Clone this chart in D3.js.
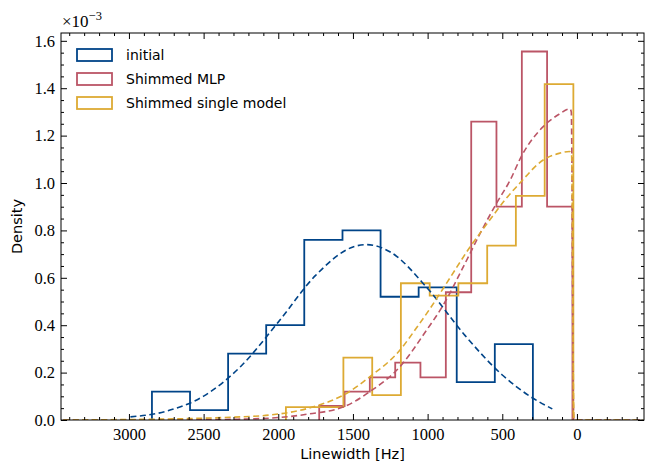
<!DOCTYPE html>
<html>
<head>
<meta charset="utf-8">
<script src="https://cdn.jsdelivr.net/npm/d3@7"></script>
<style>
  body { margin: 0; background: #fff; }
  svg { display: block; }
</style>
</head>
<body>
<svg id="chart" width="646" height="466"></svg>
<script>
// histogram bin edges (Hz) and densities (x1e-3)
const initialEdges = [2846, 2591, 2336, 2081, 1826, 1570, 1315, 1060, 805, 550, 295];
const initialDensity = [0.12, 0.042, 0.28, 0.40, 0.76, 0.80, 0.52, 0.56, 0.16, 0.32];

const mlpEdges = [1726, 1556, 1387, 1217, 1048, 878, 708, 539, 369, 200, 30];
const mlpDensity = [0.059, 0.12, 0.18, 0.242, 0.18, 0.539, 1.259, 0.90, 1.555, 0.90];

const singleEdges = [1949, 1756, 1564, 1371, 1179, 986, 794, 601, 409, 216, 24];
const singleDensity = [0.054, 0.054, 0.263, 0.105, 0.577, 0.525, 0.577, 0.736, 0.946, 1.417];

// fitted curves (dashed)
const initialFitHz = [2990, 2750, 2500, 2250, 2000, 1750, 1500, 1410, 1250, 1000, 750, 500, 300, 165];
const initialFit = [0.013, 0.037, 0.101, 0.227, 0.413, 0.61, 0.73, 0.74, 0.709, 0.555, 0.357, 0.19, 0.094, 0.047];

const mlpFitHz = [3440, 2900, 2600, 2300, 2050, 1800, 1560, 1386, 1185, 1006, 900, 750, 638, 538, 449, 370, 226, 120, 47, 38, 22, -440];
const mlpFit = [0, 0.0005, 0.001, 0.003, 0.008, 0.025, 0.056, 0.12, 0.225, 0.38, 0.48, 0.66, 0.80, 0.915, 1.01, 1.115, 1.238, 1.29, 1.313, 1.30, 0, 0];

const singleFitHz = [3440, 3000, 2600, 2300, 2056, 1900, 1726, 1550, 1386, 1185, 1073, 984, 850, 716, 600, 480, 382, 226, 120, 50, 36, 20, -440];
const singleFit = [0, 0.002, 0.006, 0.012, 0.021, 0.035, 0.063, 0.11, 0.183, 0.295, 0.39, 0.47, 0.60, 0.73, 0.83, 0.93, 1.00, 1.097, 1.125, 1.133, 1.12, 0, 0];

const xTicks = [3000, 2500, 2000, 1500, 1000, 500, 0];
const yTicks = [0.0, 0.2, 0.4, 0.6, 0.8, 1.0, 1.2, 1.4, 1.6];
const legendLabels = ['initial', 'Shimmed MLP', 'Shimmed single model'];

const colors = ['#004488', '#BB5566', '#DDAA33'];

const svg = d3.select('#chart');
const plotL = 61, plotR = 644, plotT = 33, plotB = 420;

const x = d3.scaleLinear().domain([3455, -449]).range([plotL, plotR]);
const y = d3.scaleLinear().domain([0, 1.633]).range([plotB, plotT]);

const serif = '"Liberation Serif", "DejaVu Serif", serif';
const sans = '"DejaVu Sans", sans-serif';

// plot content clipped to axes
svg.append('clipPath').attr('id', 'clip')
  .append('rect').attr('x', plotL).attr('y', plotT).attr('width', plotR - plotL).attr('height', plotB - plotT);
const g = svg.append('g').attr('clip-path', 'url(#clip)');

function stepPoints(edges, vals) {
  let pts = [[edges[0], 0]];
  vals.forEach(function (v, i) {
    pts.push([edges[i], v]);
    pts.push([edges[i + 1], v]);
  });
  pts.push([edges[edges.length - 1], 0]);
  return pts;
}

const stepLine = d3.line().x(d => x(d[0])).y(d => y(d[1]));
const fitLine = d3.line().x(d => x(d[0])).y(d => y(d[1])).curve(d3.curveMonotoneX);

const series = [
  [initialEdges, initialDensity, initialFitHz, initialFit],
  [mlpEdges, mlpDensity, mlpFitHz, mlpFit],
  [singleEdges, singleDensity, singleFitHz, singleFit]
];

series.forEach(function (s, i) {
  g.append('path')
    .attr('d', stepLine(stepPoints(s[0], s[1])))
    .attr('fill', 'none')
    .attr('stroke', colors[i])
    .attr('stroke-width', 1.8)
    .attr('stroke-linejoin', 'miter');
});
series.forEach(function (s, i) {
  g.append('path')
    .attr('d', fitLine(d3.zip(s[2], s[3])))
    .attr('fill', 'none')
    .attr('stroke', colors[i])
    .attr('stroke-width', 1.6)
    .attr('stroke-dasharray', '6,3.5');
});

// axes: inward ticks on all four sides, with minor ticks
const xMinor = d3.range(-400, 3401, 100).filter(v => v % 500 !== 0);
const yMinor = d3.range(0.05, 1.64, 0.05).filter(v => Math.abs(v * 5 - Math.round(v * 5)) > 1e-6);

function styleAxis(sel) {
  sel.select('.domain').remove();
  sel.selectAll('.tick line').attr('stroke', '#000').attr('stroke-width', 1);
  sel.selectAll('.tick text').attr('fill', '#000').attr('font-family', serif).attr('font-size', 16.5);
}

svg.append('g').attr('transform', `translate(0,${plotB})`)
  .call(d3.axisBottom(x).tickValues(xTicks).tickSize(-6).tickPadding(8).tickFormat(d3.format('d')))
  .call(styleAxis);
svg.append('g').attr('transform', `translate(0,${plotB})`)
  .call(d3.axisBottom(x).tickValues(xMinor).tickSize(-3).tickFormat(''))
  .call(styleAxis);
svg.append('g').attr('transform', `translate(0,${plotT})`)
  .call(d3.axisTop(x).tickValues(xTicks).tickSize(-6).tickFormat(''))
  .call(styleAxis);
svg.append('g').attr('transform', `translate(0,${plotT})`)
  .call(d3.axisTop(x).tickValues(xMinor).tickSize(-3).tickFormat(''))
  .call(styleAxis);

svg.append('g').attr('transform', `translate(${plotL},0)`)
  .call(d3.axisLeft(y).tickValues(yTicks).tickSize(-6).tickPadding(6).tickFormat(d3.format('.1f')))
  .call(styleAxis);
svg.append('g').attr('transform', `translate(${plotL},0)`)
  .call(d3.axisLeft(y).tickValues(yMinor).tickSize(-3).tickFormat(''))
  .call(styleAxis);
svg.append('g').attr('transform', `translate(${plotR},0)`)
  .call(d3.axisRight(y).tickValues(yTicks).tickSize(-6).tickFormat(''))
  .call(styleAxis);
svg.append('g').attr('transform', `translate(${plotR},0)`)
  .call(d3.axisRight(y).tickValues(yMinor).tickSize(-3).tickFormat(''))
  .call(styleAxis);

// frame
svg.append('rect')
  .attr('x', plotL).attr('y', plotT).attr('width', plotR - plotL).attr('height', plotB - plotT)
  .attr('fill', 'none').attr('stroke', '#000').attr('stroke-width', 1);

// offset text
const off = svg.append('text').attr('x', 62).attr('y', 27)
  .attr('font-family', serif).attr('font-size', 17).attr('fill', '#000');
off.append('tspan').text('×10');
off.append('tspan').attr('dy', -7).attr('font-size', 12.5).text('−3');

// axis labels
svg.append('text').attr('x', (plotL + plotR) / 2).attr('y', 459)
  .attr('text-anchor', 'middle').attr('font-family', sans).attr('font-size', 14.5)
  .text('Linewidth [Hz]');
svg.append('text').attr('transform', `translate(22,${(plotT + plotB) / 2}) rotate(-90)`)
  .attr('text-anchor', 'middle').attr('font-family', sans).attr('font-size', 14.5)
  .text('Density');

// legend
const legend = svg.append('g');
legendLabels.forEach(function (lab, i) {
  const ly = 55 + i * 24;
  legend.append('rect').attr('x', 77).attr('y', ly - 6).attr('width', 35).attr('height', 12)
    .attr('fill', 'none').attr('stroke', colors[i]).attr('stroke-width', 1.8);
  legend.append('text').attr('x', 126).attr('y', ly + 5)
    .attr('font-family', sans).attr('font-size', 14).attr('fill', '#000')
    .text(lab);
});
</script>
</body>
</html>
